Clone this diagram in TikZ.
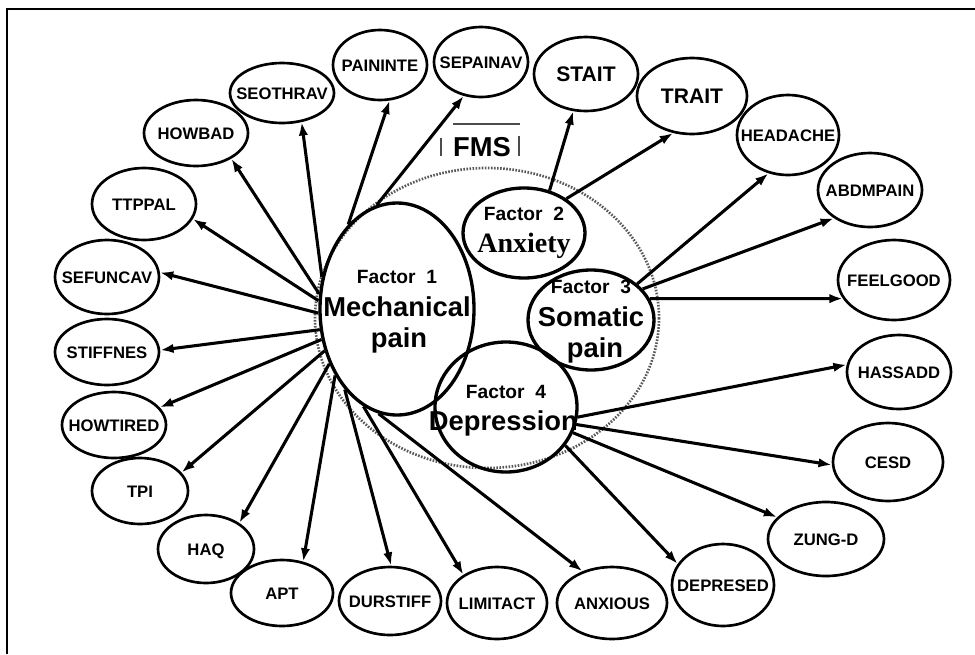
\documentclass[tikz,border=0pt]{standalone}
\usepackage{fontspec}
\setmainfont{Liberation Sans}
\newfontfamily\timesf{Liberation Serif}
\usetikzlibrary{shapes.geometric,arrows.meta}
\newcommand\labfont{\fontsize{12.5pt}{15pt}\selectfont\bfseries}
\newcommand\bigfont{\fontsize{15.8pt}{19pt}\selectfont\bfseries}
\newcommand\facfont{\fontsize{14.4pt}{17pt}\selectfont\bfseries}
\newcommand\namefont{\fontsize{20.5pt}{24pt}\selectfont\bfseries}
\newcommand\anxfont{\timesf\fontsize{21pt}{25pt}\selectfont\bfseries}
\begin{document}
\begin{tikzpicture}[x=0.75pt,y=-0.75pt,
 outer/.style 2 args={ellipse, draw, line width=2pt, minimum width=#1*1.5pt, minimum height=#2*1.5pt, inner sep=0pt},
 factor/.style 2 args={ellipse, draw, line width=2.5pt, minimum width=#1*1.5pt, minimum height=#2*1.5pt, inner sep=0pt},
 every label/.style={inner sep=0pt, text height=0pt, text depth=0pt},
 lt/.style={label={[font=\labfont,yshift=-4.5pt]center:#1}},
 ltb/.style={label={[font=\bigfont,yshift=-5.6pt]center:#1}},
 arr/.style={-{Latex[length=10pt,width=7pt]}, line width=2.3pt},
 fmsdot/.style={line width=2pt, black!65, dash pattern=on 1.2pt off 1.1pt},
 fmsbox/.style={line width=0.8pt, black!70},
 frame/.style={line width=1.6pt},
]
\useasboundingbox (0,0) rectangle (975,654);
\draw[frame] (7,654) -- (7,9) -- (975,9);

% FMS region
\draw[fmsdot] (487,318) ellipse [x radius=172, y radius=150];
\node[font=\namefont, inner sep=0pt] (fms) at (482,147) {FMS};
\draw[fmsbox] (441,138) -- (441,156);
\draw[fmsbox] (519,136) -- (519,156);
\draw[fmsbox] (453,124) -- (520,124);

% factors
\node[factor={77}{106},
 label={[font=\facfont,yshift=19.5pt]center:Factor\ \ 1},
 label={[font=\namefont,yshift=-5.25pt]center:Mechanical},
 label={[font=\namefont,yshift=-28.5pt,xshift=1.5pt]center:pain}] (F1) at (397,309) {};
\node[factor={61}{45},
 label={[font=\facfont,yshift=9.75pt]center:Factor\ \ 2},
 label={[font=\anxfont,yshift=-14.25pt]center:Anxiety}] (F2) at (524,233) {};
\node[factor={63}{50},
 label={[font=\facfont,yshift=20.25pt]center:Factor\ \ 3},
 label={[font=\namefont,yshift=-4.5pt]center:Somatic},
 label={[font=\namefont,yshift=-27.75pt,xshift=3pt]center:pain}] (F3) at (591,320) {};
\node[factor={71}{65},
 label={[font=\facfont,yshift=6.75pt]center:Factor\ \ 4},
 label={[font=\namefont,yshift=-17.25pt,xshift=-2pt]center:Depression}] (F4) at (506,407) {};

% outer variables
\node[outer={52}{30}, lt=SEOTHRAV] (seothrav) at (282,93) {};
\node[outer={47}{35}, lt=PAININTE] (paininte) at (380,65) {};
\node[outer={47}{35}, lt=SEPAINAV] (sepainav) at (481,62) {};
\node[outer={52}{33}, lt=HOWBAD] (howbad) at (196,133) {};
\node[outer={52}{36}, lt=TTPPAL] (ttppal) at (144,204) {};
\node[outer={52}{37}, lt=SEFUNCAV] (sefuncav) at (107,277) {};
\node[outer={52}{33}, lt=STIFFNES] (stiffnes) at (107,352) {};
\node[outer={52}{33}, lt=HOWTIRED] (howtired) at (114,425) {};
\node[outer={48}{33}, lt=TPI] (tpi) at (140,491) {};
\node[outer={48}{34}, lt=HAQ] (haq) at (206,549) {};
\node[outer={51}{33}, lt=APT] (apt) at (282,593) {};
\node[outer={51}{34}, lt=DURSTIFF] (durstiff) at (390,601) {};
\node[outer={50}{36}, lt=LIMITACT] (limitact) at (497,603) {};
\node[outer={55}{36}, lt=ANXIOUS] (anxious) at (612,603) {};
\node[outer={51}{41}, lt=DEPRESED] (depresed) at (723,585) {};
\node[outer={58}{37}, lt=ZUNG-D] (zungd) at (826,539) {};
\node[outer={55}{39}, lt=CESD] (cesd) at (888,462) {};
\node[outer={52}{37}, lt=HASSADD] (hassadd) at (899,372) {};
\node[outer={52}{37}, ltb=STAIT] (stait) at (586,74) {};
\node[outer={55}{38}, ltb=TRAIT] (trait) at (692,96) {};
\node[outer={51}{40}, lt=HEADACHE] (headache) at (788,135) {};
\node[outer={52}{37}, lt=ABDMPAIN] (abdmpain) at (870,190) {};
\node[outer={56}{40}, lt=FEELGOOD] (feelgood) at (894,280) {};

% arrows from Factor 1
\draw[arr] (F1.101) -- (sepainav.243);
\draw[arr] (F1.120) -- (paininte.285);
\draw[arr] (F1.157) -- (seothrav.304);
\draw[arr] (F1.169) -- (howbad.324);
\draw[arr] (F1.174) -- (ttppal.343);
\draw[arr] (F1.183) -- (sefuncav.5);
\draw[arr] (F1.195) -- (stiffnes.2);
\draw[arr] (F1.202) -- (howtired.21);
\draw[arr] (F1.210) -- (tpi.24);
\draw[arr] (F1.219) -- (haq.38);
\draw[arr] (F1.227) -- (apt.56);
\draw[arr] (F1.237) -- (durstiff.88);
\draw[arr] (F1.251) -- (limitact.140);
\draw[arr] (F1.260) -- (anxious.133);
% Factor 2
\draw[arr] (F2.59) -- (stait.251);
\draw[arr] (F2.39) -- (trait.243);
% Factor 3
\draw[arr] (F3.38) -- (headache.243);
\draw[arr] (F3.31) -- (abdmpain.218);
\draw[arr] (F3.20) -- (feelgood.200);
% Factor 4
\draw[arr] (F4.352) -- (hassadd.172);
\draw[arr] (F4.346) -- (cesd.183);
\draw[arr] (F4.339) -- (zungd.156);
\draw[arr] (F4.327) -- (depresed.155);
\end{tikzpicture}
\end{document}
